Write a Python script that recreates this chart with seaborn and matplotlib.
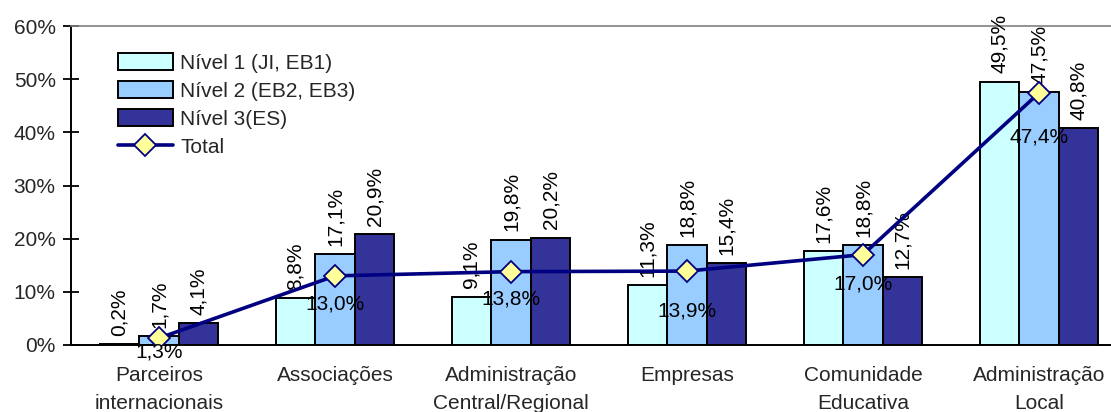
import matplotlib
matplotlib.use("Agg")
import matplotlib.pyplot as plt
import seaborn as sns
import pandas as pd
import numpy as np
from matplotlib.ticker import FuncFormatter, FixedLocator

categories = ["Parceiros\ninternacionais", "Associações", "Administração\nCentral/Regional",
              "Empresas", "Comunidade\nEducativa", "Administração\nLocal"]
series_names = ["Nível 1 (JI, EB1)", "Nível 2 (EB2, EB3)", "Nível 3(ES)"]
nivel1 = [0.2, 8.8, 9.1, 11.3, 17.6, 49.5]
nivel2 = [1.7, 17.1, 19.8, 18.8, 18.8, 47.5]
nivel3 = [4.1, 20.9, 20.2, 15.4, 12.7, 40.8]
total = [1.3, 13.0, 13.8, 13.9, 17.0, 47.4]
# vertical offsets (points) of the Total labels below their markers
total_label_drop = [10, 20, 20, 29, 21, 32]

colors = ["#CCFFFF", "#99CCFF", "#333399"]
line_color = "#000080"

sns.set_theme(style="white")
plt.rcParams["font.family"] = ["Liberation Sans", "DejaVu Sans"]
plt.rcParams["font.size"] = 15

def pct(v):
    return f"{v:.1f}%".replace(".", ",")

rows = []
for name, vals in zip(series_names, [nivel1, nivel2, nivel3]):
    for c, v in zip(categories, vals):
        rows.append({"cat": c, "serie": name, "val": v})
df = pd.DataFrame(rows)

W, H = 1111, 412
fig = plt.figure(figsize=(W / 100, H / 100), dpi=100)
ax = fig.add_axes([71 / W, 1 - 345 / H, 1056 / W, (345 - 26) / H])

sns.barplot(data=df, x="cat", y="val", hue="serie", palette=colors, width=0.675,
            edgecolor="black", linewidth=1.4, saturation=1, ax=ax, legend=True)

for cont in ax.containers:
    for bar in cont:
        h = bar.get_height()
        ax.annotate(pct(h), (bar.get_x() + bar.get_width() / 2, h),
                    xytext=(0, 6), textcoords="offset points", rotation=90,
                    ha="center", va="bottom", fontsize=15, color="black")

xs = np.arange(len(categories))
sns.lineplot(x=xs, y=total, ax=ax, color=line_color, linewidth=2.6, marker="D",
             markersize=11, markerfacecolor="#FFFF99", markeredgecolor=line_color,
             markeredgewidth=1.3, label="Total", zorder=5)
for x, v, d in zip(xs, total, total_label_drop):
    ax.annotate(pct(v), (x, v), xytext=(0, -d), textcoords="offset points",
                ha="center", va="center", fontsize=15, color="black", zorder=6)

ax.set_xlim(-0.5, len(categories) - 0.5)
ax.set_ylim(0, 60)
ax.yaxis.set_major_locator(FixedLocator([0, 10, 20, 30, 40, 50, 60]))
ax.yaxis.set_major_formatter(FuncFormatter(lambda v, p: f"{v:.0f}%"))
ax.set_xlabel("")
ax.set_ylabel("")
ax.set_xticks(xs)
ax.set_xticklabels(categories, fontsize=15, linespacing=1.6)
ax.set_xticks(np.arange(-0.5, len(categories) + 0.5, 1), minor=True)
ax.tick_params(axis="x", which="major", length=0, pad=15)
ax.tick_params(axis="x", which="minor", direction="inout", length=12, width=1.3, color="black")
ax.tick_params(axis="y", direction="inout", length=12, width=1.3, color="black",
               labelsize=15, pad=5, left=True)

ax.spines["right"].set_visible(False)
ax.spines["top"].set_color("#808080")
ax.spines["top"].set_linewidth(1.2)
for s in ["left", "bottom"]:
    ax.spines[s].set_color("black")
    ax.spines[s].set_linewidth(1.4)

handles, labels = ax.get_legend_handles_labels()
ax.legend(handles, labels, loc="upper left", bbox_to_anchor=(0.0365, 0.94), frameon=False,
          fontsize=15, handlelength=2.65, handleheight=0.85, labelspacing=0.4,
          handletextpad=0.35, borderaxespad=0)

fig.savefig("out.png", dpi=100)
